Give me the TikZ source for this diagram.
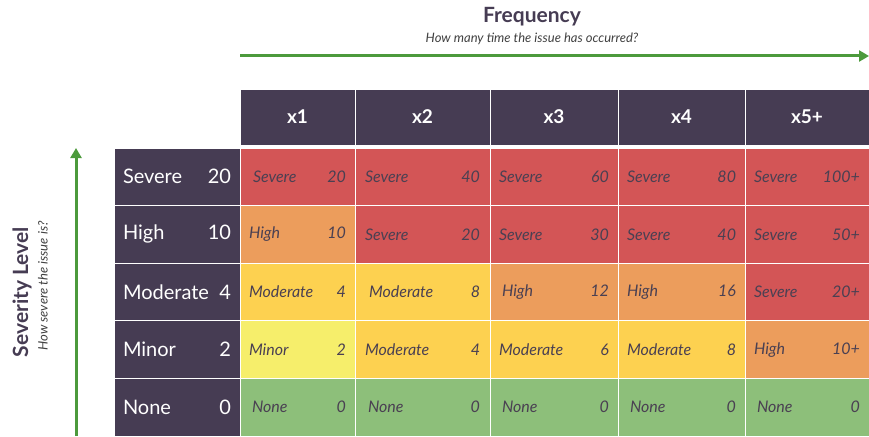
\documentclass[tikz,border=0pt]{standalone}
\usepackage{fontspec}
\setmainfont{Lato}
\usetikzlibrary{arrows.meta}

\definecolor{headbg}{HTML}{463C53}
\definecolor{sevred}{HTML}{D35556}
\definecolor{highorange}{HTML}{EC9D5C}
\definecolor{modyellow}{HTML}{FDD150}
\definecolor{minyellow}{HTML}{F6EE6B}
\definecolor{nonegreen}{HTML}{8DBF7A}
\definecolor{celltext}{HTML}{4A4052}
\definecolor{axisgreen}{HTML}{4C9A3C}

\tikzset{
  head/.style={fill=headbg, draw=white, line width=1pt, text=white, inner sep=0pt,
    font=\bfseries\fontsize{19}{21}\selectfont, minimum height=56pt},
  rowhead/.style={fill=headbg, draw=white, line width=1pt, text=white, inner sep=0pt,
    font=\fontsize{20}{22}\selectfont, minimum width=126pt, minimum height=57.6pt, text width=108pt},
  cell/.style={draw=white, line width=1pt, text=celltext, inner sep=0pt,
    font=\itshape\fontsize{16}{18}\selectfont, minimum height=57.6pt},
  colone/.style={minimum width=115pt, text width=97pt},
  coltwo/.style={minimum width=135pt, text width=115pt},
  colthree/.style={minimum width=128pt, text width=110pt},
  colfour/.style={minimum width=127pt, text width=109pt},
  colfive/.style={minimum width=124pt, text width=106pt},
  axis/.style={draw=axisgreen, line width=3pt, -{Triangle[length=10pt,width=11pt]}},
  axistitle/.style={text=headbg, font=\bfseries\fontsize{21}{23}\selectfont},
  axissub/.style={text=black!75, font=\itshape\fontsize{13}{15}\selectfont},
}

\begin{document}
\begin{tikzpicture}[x=1pt,y=-1pt]
\useasboundingbox (0,0) rectangle (869,436);

% axis titles
\node[axistitle] at (532,17) (freqtitle) {Frequency};
\node[axissub] at (532,39) (freqsub) {How many time the issue has occurred?};
\node[axistitle, rotate=90] at (22,292) (sevtitle) {Severity Level};
\node[axissub, rotate=90] at (43,286) (sevsub) {How severe the issue is?};

\coordinate (freqstart) at (240,56);
\coordinate (freqend) at (869,56);
\coordinate (sevstart) at (76,436);
\coordinate (sevend) at (76,148);
\draw[axis] (freqstart) -- (freqend);
\draw[axis] (sevstart) -- (sevend);

% column headers
\node[head, minimum width=115pt] at (297.5,117) (hone) {x1};
\node[head, minimum width=135pt] at (422.5,117) (htwo) {x2};
\node[head, minimum width=128pt] at (554,117) (hthree) {x3};
\node[head, minimum width=127pt] at (681.5,117) (hfour) {x4};
\node[head, minimum width=124pt] at (807,117) (hfive) {x5+};

% row headers
\node[rowhead] at (177,176.8) (rsevere) {Severe\hfill 20};
\node[rowhead] at (177,234.4) (rhigh) {High\hfill 10};
\node[rowhead] at (177,292) (rmoderate) {Moderate\hfill 4};
\node[rowhead] at (177,349.6) (rminor) {Minor\hfill 2};
\node[rowhead] at (177,407.2) (rnone) {None\hfill 0};

% severe row
\node[cell, colone, fill=sevred] at (297.5,176.8) (severeone) {\hspace{4pt}Severe\hfill 20};
\node[cell, coltwo, fill=sevred] at (422.5,176.8) (severetwo) {Severe\hfill 40};
\node[cell, colthree, fill=sevred] at (554,176.8) (severethree) {Severe\hfill 60};
\node[cell, colfour, fill=sevred] at (681.5,176.8) (severefour) {Severe\hfill 80};
\node[cell, colfive, fill=sevred] at (807,176.8) (severefive) {Severe\hfill 100+};

% high row
\node[cell, colone, fill=highorange] at (297.5,234.4) (highone) {High\hfill 10};
\node[cell, coltwo, fill=sevred] at (422.5,234.4) (hightwo) {Severe\hfill 20};
\node[cell, colthree, fill=sevred] at (554,234.4) (highthree) {Severe\hfill 30};
\node[cell, colfour, fill=sevred] at (681.5,234.4) (highfour) {Severe\hfill 40};
\node[cell, colfive, fill=sevred] at (807,234.4) (highfive) {Severe\hfill 50+};

% moderate row
\node[cell, colone, fill=modyellow] at (297.5,292) (modone) {Moderate\hfill 4};
\node[cell, coltwo, fill=modyellow] at (422.5,292) (modtwo) {\hspace{4pt}Moderate\hfill 8\hspace{4pt}};
\node[cell, colthree, fill=highorange] at (554,292) (modthree) {\hspace{3pt}High\hfill 12\hspace{3pt}};
\node[cell, colfour, fill=highorange] at (681.5,292) (modfour) {High\hfill 16};
\node[cell, colfive, fill=sevred] at (807,292) (modfive) {Severe\hfill 20+};

% minor row
\node[cell, colone, fill=minyellow] at (297.5,349.6) (minone) {Minor\hfill 2};
\node[cell, coltwo, fill=modyellow] at (422.5,349.6) (mintwo) {Moderate\hfill 4};
\node[cell, colthree, fill=modyellow] at (554,349.6) (minthree) {Moderate\hfill 6};
\node[cell, colfour, fill=modyellow] at (681.5,349.6) (minfour) {Moderate\hfill 8};
\node[cell, colfive, fill=highorange] at (807,349.6) (minfive) {High\hfill 10+};

% none row
\node[cell, colone, fill=nonegreen] at (297.5,407.2) (noneone) {\hspace{3pt}None\hfill 0\hspace{3pt}};
\node[cell, coltwo, fill=nonegreen] at (422.5,407.2) (nonetwo) {\hspace{3pt}None\hfill 0\hspace{3pt}};
\node[cell, colthree, fill=nonegreen] at (554,407.2) (nonethree) {\hspace{3pt}None\hfill 0\hspace{3pt}};
\node[cell, colfour, fill=nonegreen] at (681.5,407.2) (nonefour) {\hspace{3pt}None\hfill 0\hspace{3pt}};
\node[cell, colfive, fill=nonegreen] at (807,407.2) (nonefive) {\hspace{3pt}None\hfill 0\hspace{3pt}};
\end{tikzpicture}
\end{document}
